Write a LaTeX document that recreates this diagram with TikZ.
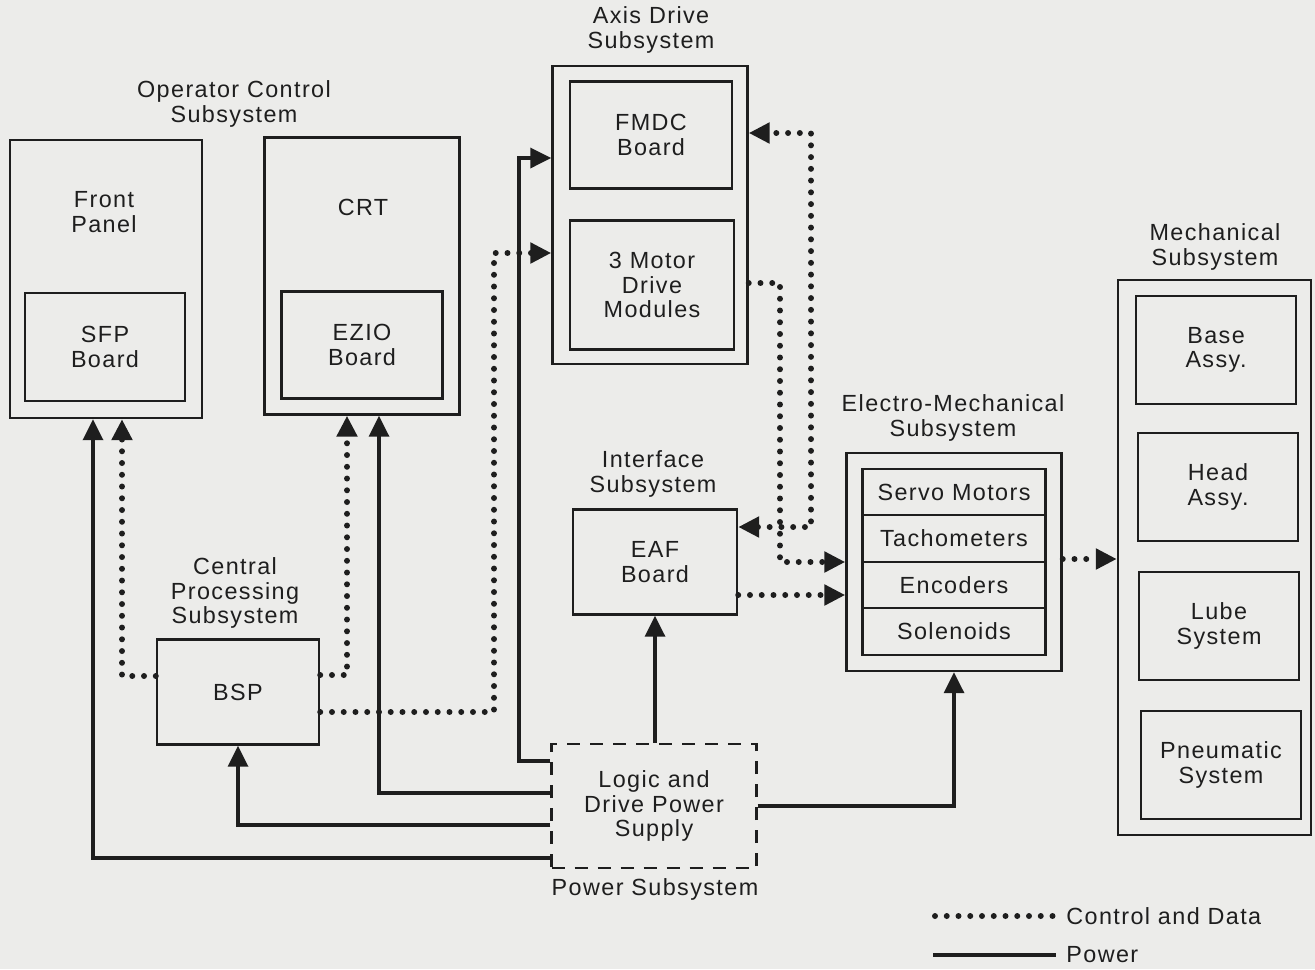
\documentclass[tikz,border=0pt]{standalone}
\usepackage{fontspec}
\setmainfont{Liberation Sans}[LetterSpace=6]
\usepackage{tikz}
\usetikzlibrary{arrows.meta,calc,positioning}
\definecolor{ink}{HTML}{1E1E1E}
\definecolor{paper}{HTML}{ECECEA}

\begin{document}
\begin{tikzpicture}[x=0.2mm,y=-0.2mm,>={Triangle[length=4.2mm,width=4mm]},
  font=\fontsize{13.3}{13.8}\selectfont,ink,
  boxsize/.style 2 args={minimum width=#1*0.2mm,minimum height=#2*0.2mm},
  blk/.style={draw=ink,line width=1.4pt,inner sep=0pt,align=center},
  lbl/.style={align=center,inner sep=0pt},
  pwr/.style={->,draw=ink,line width=2pt},
  ctl/.style={->,draw=ink,line width=3.4pt,line cap=round,dash pattern=on 0pt off 2.35mm}]
  \fill[paper] (0,0) rectangle (1315,969);

  % operator control subsystem
  \node[lbl] (oplbl) at (234,104) {Operator Control\\Subsystem};
  \node[blk,boxsize={192}{278}] (fp) at (106,279) {};
  \node[lbl] (fptxt) at (104,212) {Front\\Panel};
  \node[blk,boxsize={160}{108}] (sfp) at (105,347) {SFP\\Board};
  \node[blk,boxsize={195}{277}] (crt) at (362,276) {};
  \node[lbl] (crttxt) at (363,207) {CRT};
  \node[blk,boxsize={161}{107}] (ezio) at (362,345) {EZIO\\Board};

  % axis drive subsystem
  \node[lbl] (axlbl) at (651,30) {Axis Drive\\Subsystem};
  \node[blk,boxsize={195}{298}] (axis) at (650,215) {};
  \node[blk,boxsize={162}{107}] (fmdc) at (651,135) {FMDC\\Board};
  \node[blk,boxsize={164}{129}] (mdm) at (652,285) {3 Motor\\Drive\\Modules};

  % interface, central processing, power
  \node[lbl] (iflbl) at (653,474) {Interface\\Subsystem};
  \node[blk,boxsize={164}{105}] (eaf) at (655,562) {EAF\\Board};
  \node[lbl] (cplbl) at (235,593) {Central\\Processing\\Subsystem};
  \node[blk,boxsize={162}{105}] (bsp) at (238,692) {BSP};
  \node[blk,dash pattern=on 2.6mm off 2mm,boxsize={205}{124}] (ps) at (654,806)
    {Logic and\\Drive Power\\Supply};
  \node[lbl] (pslbl) at (655,889) {Power Subsystem};

  % electro-mechanical subsystem
  \node[lbl] (emlbl) at (953,418) {Electro-Mechanical\\Subsystem};
  \node[blk,boxsize={215}{218}] (em) at (954,562) {};
  \node[blk,boxsize={183}{46.5}] (servo) at (954,492) {Servo Motors};
  \node[blk,boxsize={183}{46.5}] (tach) at (954,538.5) {Tachometers};
  \node[blk,boxsize={183}{46.5}] (enc) at (954,585) {Encoders};
  \node[blk,boxsize={183}{46.5}] (sol) at (954,631.5) {Solenoids};

  % mechanical subsystem
  \node[lbl] (mclbl) at (1215,247) {Mechanical\\Subsystem};
  \node[blk,boxsize={193}{555}] (mech) at (1214.5,557.5) {};
  \node[blk,boxsize={160}{108}] (base) at (1216,350) {Base\\Assy.};
  \node[blk,boxsize={160}{108}] (head) at (1218,487) {Head\\Assy.};
  \node[blk,boxsize={160}{108}] (lube) at (1219,626) {Lube\\System};
  \node[blk,boxsize={160}{108}] (pneu) at (1221,765) {Pneumatic\\System};

  % power
  \draw[pwr] (ps.west |- 0,858) -| (93,0 |- fp.south);
  \draw[pwr] (ps.west |- 0,825) -| (bsp.south);
  \draw[pwr] (ps.west |- 0,793) -| (379,0 |- crt.south);
  \draw[pwr] (ps.west |- 0,761) -| (519,158) -- (axis.west |- 0,158);
  \draw[pwr] (eaf.south |- ps.north) -- (eaf.south);
  \draw[pwr] (ps.east) -| (em.south);

  % control and data
  \draw[ctl] (bsp.west |- 0,676) -| (122,0 |- fp.south);
  \draw[ctl] (bsp.east |- 0,675) -| (347,0 |- crt.south);
  \draw[ctl] (bsp.east |- 0,712) -| (494,253) -- (axis.west |- 0,253);
  \draw[ctl,<->] (eaf.east |- 0,527) -| (811,133) -- (axis.east |- 0,133);
  \draw[ctl] (axis.east |- 0,283) -| (780,562) -- (em.west |- 0,562);
  \draw[ctl] (eaf.east |- 0,595) -- (em.west |- 0,595);
  \draw[ctl] (em.east |- 0,559) -- (mech.west |- 0,559);

  % legend
  \node[lbl,anchor=west] (lgctl) at (1066,916) {Control and Data};
  \node[lbl,anchor=west] (lgpwr) at (1066,955) {Power};
  \coordinate (lgc) at (935,916);
  \coordinate (lgp) at (933,955);
  \draw[ctl,-] (lgc) -- ([xshift=-2mm]lgctl.west);
  \draw[pwr,-] (lgp) -- ([xshift=-2mm]lgpwr.west);
\end{tikzpicture}
\end{document}
